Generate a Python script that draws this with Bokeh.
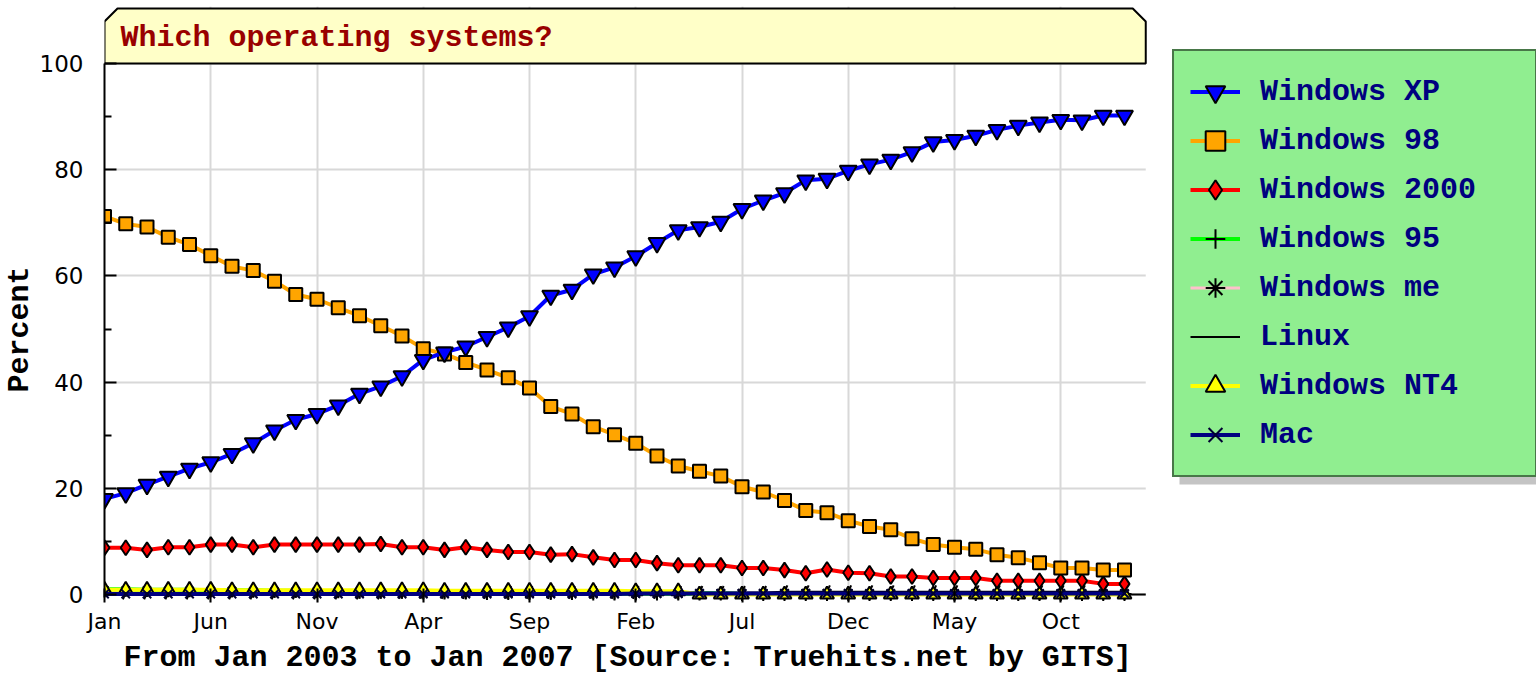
from bokeh.plotting import figure
from bokeh.models import Legend, LegendItem, FixedTicker, Title
from bokeh.core.properties import value
from bokeh.embed import file_html
from bokeh.resources import INLINE

# ---------------- data (percent share, Jan 2003 .. Jan 2007, monthly) ----------------
tick_positions = [0, 5, 10, 15, 20, 25, 30, 35, 40, 45]
tick_labels = ["Jan", "Jun", "Nov", "Apr", "Sep", "Feb", "Jul", "Dec", "May", "Oct"]

win_xp = [18.0, 19.1, 20.7, 22.2, 23.7, 24.9, 26.5, 28.5, 30.9, 32.9,
          34.0, 35.6, 37.8, 39.2, 41.1, 44.2, 45.6, 46.7, 48.5, 50.3,
          52.4, 56.3, 57.4, 60.3, 61.6, 63.7, 66.2, 68.6, 69.2, 70.2,
          72.6, 74.2, 75.6, 78.0, 78.3, 79.8, 81.0, 81.9, 83.3, 85.2,
          85.6, 86.4, 87.5, 88.3, 88.9, 89.4, 89.3, 90.2, 90.2]
win_98 = [71.2, 69.8, 69.2, 67.3, 65.9, 63.8, 61.8, 61.0, 59.0, 56.5,
          55.6, 54.0, 52.5, 50.6, 48.7, 46.3, 45.3, 43.7, 42.3, 40.8,
          38.9, 35.4, 34.0, 31.6, 30.1, 28.5, 26.1, 24.2, 23.2, 22.3,
          20.3, 19.3, 17.7, 15.8, 15.4, 13.9, 12.8, 12.2, 10.5, 9.4,
          8.9, 8.5, 7.5, 6.9, 6.0, 5.0, 5.0, 4.6, 4.6]
win_2000 = [8.8, 8.8, 8.4, 8.9, 8.9, 9.4, 9.4, 8.9, 9.4, 9.4,
            9.4, 9.4, 9.4, 9.5, 8.9, 8.9, 8.4, 8.9, 8.4, 8.0,
            8.0, 7.5, 7.6, 7.0, 6.5, 6.5, 5.9, 5.5, 5.5, 5.5,
            5.0, 5.0, 4.6, 4.0, 4.7, 4.1, 4.0, 3.4, 3.4, 3.1,
            3.1, 3.1, 2.6, 2.6, 2.6, 2.6, 2.6, 2.0, 2.0]
win_95 = [1.0, 1.0, 0.9, 0.9, 0.9, 0.8, 0.8, 0.8, 0.7, 0.7,
          0.6, 0.6, 0.5, 0.5, 0.5, 0.4, 0.4, 0.4, 0.3, 0.3,
          0.3, 0.3, 0.3, 0.2, 0.2, 0.2, 0.2, 0.2, 0.2, 0.2,
          0.1, 0.1, 0.1, 0.1, 0.1, 0.1, 0.1, 0.1, 0.1, 0.1,
          0.1, 0.1, 0.1, 0.1, 0.1, 0.1, 0.1, 0.1, 0.1]
win_me = [0.7, 0.7, 0.7, 0.6, 0.6, 0.6, 0.6, 0.5, 0.5, 0.5,
          0.5, 0.5, 0.4, 0.4, 0.4, 0.4, 0.4, 0.3, 0.3, 0.3,
          0.3, 0.3, 0.3, 0.3, 0.2, 0.2, 0.2, 0.2, 0.2, 0.2,
          0.2, 0.2, 0.2, 0.2, 0.2, 0.2, 0.1, 0.1, 0.1, 0.1,
          0.1, 0.1, 0.1, 0.1, 0.1, 0.1, 0.1, 0.1, 0.1]
linux = [0.3, 0.3, 0.3, 0.3, 0.3, 0.3, 0.3, 0.3, 0.3, 0.3,
         0.3, 0.3, 0.3, 0.3, 0.4, 0.4, 0.4, 0.4, 0.4, 0.4,
         0.4, 0.4, 0.4, 0.4, 0.4, 0.4, 0.4, 0.4, 0.4, 0.4,
         0.4, 0.4, 0.5, 0.5, 0.5, 0.5, 0.5, 0.5, 0.5, 0.5,
         0.5, 0.5, 0.5, 0.5, 0.5, 0.5, 0.5, 0.5, 0.5]
win_nt4 = [0.9, 0.9, 0.9, 0.9, 0.9, 0.9, 0.8, 0.8, 0.8, 0.8,
           0.8, 0.8, 0.8, 0.8, 0.8, 0.8, 0.7, 0.7, 0.7, 0.7,
           0.7, 0.7, 0.7, 0.7, 0.7, 0.6, 0.6, 0.6, 0.0, 0.0,
           0.0, 0.0, 0.0, 0.0, 0.0, 0.0, 0.0, 0.0, 0.0, 0.0,
           0.0, 0.0, 0.0, 0.0, 0.0, 0.0, 0.0, 0.0, 0.0]
mac = [0.1, 0.1, 0.1, 0.1, 0.1, 0.1, 0.1, 0.1, 0.1, 0.1,
       0.1, 0.1, 0.1, 0.1, 0.1, 0.1, 0.1, 0.1, 0.1, 0.1,
       0.1, 0.1, 0.1, 0.1, 0.1, 0.2, 0.2, 0.2, 0.2, 0.2,
       0.2, 0.2, 0.2, 0.2, 0.2, 0.2, 0.2, 0.2, 0.2, 0.2,
       0.2, 0.2, 0.2, 0.2, 0.2, 0.2, 0.2, 0.2, 0.2]

N = len(win_xp)
month_index = list(range(N))

title_text = "Which operating systems?"
x_title = "From Jan 2003 to Jan 2007 [Source: Truehits.net by GITS]"
y_title = "Percent"

# ---------------- geometry (page pixels) ----------------
W, H = 1536, 676
FRAME_LEFT, FRAME_TOP, FRAME_BOTTOM = 104, 6, 602
PXM = 21.25                     # px per month
PYU = 5.31                      # px per percent
X_END = (W - FRAME_LEFT) / PXM
Y0 = -(FRAME_BOTTOM - 594) / PYU
Y1 = Y0 + (FRAME_BOTTOM - FRAME_TOP) / PYU


def dx(px):   # page pixel -> data x
    return (px - FRAME_LEFT) / PXM


def dy(py):   # page pixel -> data y
    return Y0 + (FRAME_BOTTOM - py) / PYU


p = figure(width=W, height=H, x_range=(0, X_END), y_range=(Y0, Y1),
           output_backend="svg", toolbar_location=None,
           min_border_left=FRAME_LEFT, min_border_right=0,
           min_border_top=FRAME_TOP, min_border_bottom=H - FRAME_BOTTOM,
           background_fill_color="white", border_fill_color="white")
p.outline_line_color = None

# grid
for g in (p.xgrid, p.ygrid):
    g.grid_line_color = "#d8d8d8"
    g.grid_line_width = 2

# x axis
xa = p.xaxis[0]
xa.ticker = FixedTicker(ticks=tick_positions)
xa.major_label_overrides = {t: l for t, l in zip(tick_positions, tick_labels)}
xa.axis_line_color = None
xa.major_tick_in = 14
xa.major_tick_out = 0
xa.major_tick_line_width = 2
xa.major_tick_line_color = "black"
xa.minor_tick_line_color = None
xa.major_label_standoff = 6
xa.major_label_text_font = "DejaVu Sans"
xa.major_label_text_font_size = "22px"
xa.major_label_text_color = "black"

# y axis
ya = p.yaxis[0]
ya.ticker = FixedTicker(ticks=[0, 20, 40, 60, 80, 100], minor_ticks=[10, 30, 50, 70, 90])
ya.bounds = (dy(597), 100)
ya.axis_line_width = 2
ya.axis_line_color = "black"
ya.major_tick_in = 12
ya.major_tick_out = 0
ya.minor_tick_in = 7
ya.minor_tick_out = 0
ya.major_tick_line_width = 2
ya.minor_tick_line_width = 2
ya.major_label_standoff = 21
ya.major_label_text_font = "DejaVu Sans"
ya.major_label_text_font_size = "23px"
ya.major_label_text_color = "black"

p.add_layout(Title(text=x_title, align="left", offset=19, standoff=4,
                   text_font="Liberation Mono", text_font_style="bold",
                   text_font_size="30px", text_color="black"), "below")
p.add_layout(Title(text=y_title, align="left", offset=FRAME_BOTTOM - 392, standoff=0,
                   text_font="Liberation Mono", text_font_style="bold",
                   text_font_size="30px", text_color="black"), "left")

# cover grid beyond plot area (legend region)
p.quad(left=[N], right=[X_END], bottom=[Y0], top=[Y1], fill_color="white", line_color=None)

# title box with chamfered top corners
top = dy(8)
cx, cy = 13 / PXM, 13 / PYU
p.patch([0, 0, cx, N - cx, N, N], [100, top - cy, top, top, top - cy, 100],
        fill_color="#ffffc8", line_color="black", line_width=2)
p.text(x=[dx(120)], y=[dy(37)], text=[title_text], text_font=value("Liberation Mono"),
       text_font_style="bold", text_font_size="30px", text_color="#990000",
       text_baseline="middle", text_align="left")

# x axis line at 0
p.segment(x0=[0], y0=[0], x1=[N], y1=[0], line_color="black", line_width=2)

# series (drawing order bottom -> top)
series = [
    ("Linux", linux, "black", "dash", None, "black", 14, 2),
    ("Windows me", win_me, "#ffc0cb", "asterisk", None, "black", 12, 3),
    ("Windows 95", win_95, "#00ff00", "cross", None, "black", 14, 4),
    ("Windows NT4", win_nt4, "#ffff00", "triangle", "#ffff00", "black", 14, 4),
    ("Mac", mac, "#000080", "x", None, "#000033", 12, 4),
    ("Windows 2000", win_2000, "#ff0000", "diamond", "#ff0000", "black", 15, 4),
    ("Windows 98", win_98, "#ffa500", "square", "#ffa500", "black", 13, 4),
    ("Windows XP", win_xp, "#0000ff", "inverted_triangle", "#0000ff", "black", 17, 4),
]

renderers = {}
for name, vals, lc, marker, fc, mlc, size, lw in series:
    lr = p.line(month_index, vals, line_color=lc, line_width=lw)
    kw = dict(marker=marker, size=size, line_color=mlc, line_width=2,
              fill_color=fc)
    if marker == "dash":
        kw["angle"] = 1.15
    sr = p.scatter(month_index, vals, **kw)
    renderers[name] = [lr, sr]

# legend shadow
p.quad(left=[dx(1179)], right=[X_END], top=[dy(59)], bottom=[dy(484)],
       fill_color="#c4c4c4", line_color=None)

legend_order = ["Windows XP", "Windows 98", "Windows 2000", "Windows 95",
                "Windows me", "Linux", "Windows NT4", "Mac"]
items = [LegendItem(label=n, renderers=renderers[n]) for n in legend_order]
legend = Legend(items=items, location=(1172 - FRAME_LEFT, FRAME_BOTTOM - 477),
                orientation="vertical",
                background_fill_color="#90ee90", background_fill_alpha=1.0,
                border_line_color="black", border_line_width=2,
                padding=16, spacing=0, margin=0,
                glyph_width=50, glyph_height=49, label_standoff=20, label_width=259,
                label_text_font="Liberation Mono", label_text_font_style="bold",
                label_text_font_size="30px", label_text_color="#000080",
                label_text_baseline="middle")
p.add_layout(legend, "center")

open("out.html", "w").write(file_html(p, INLINE))
